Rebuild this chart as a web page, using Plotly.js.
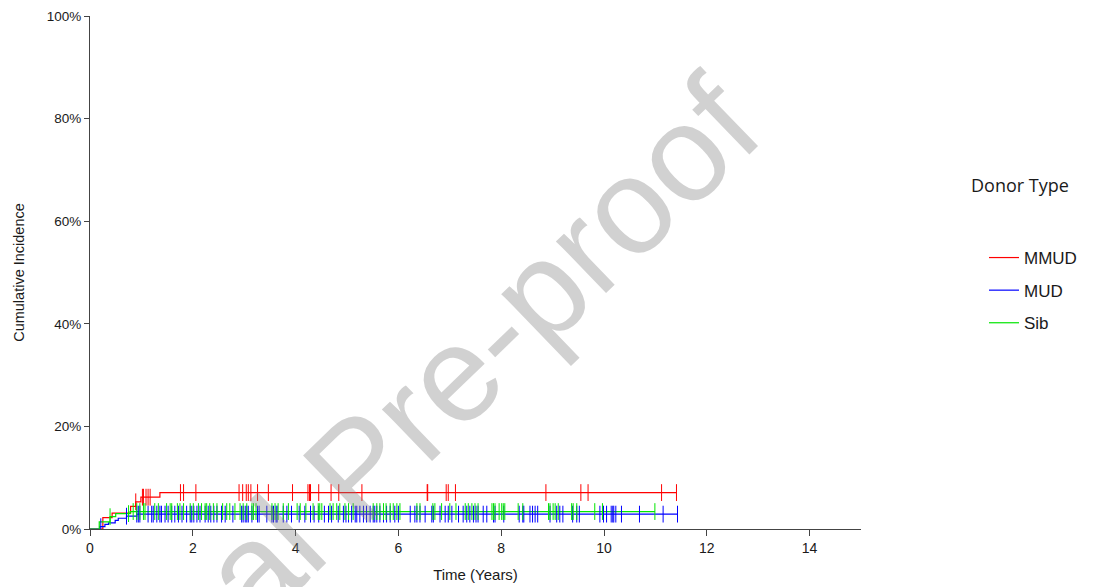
<!DOCTYPE html>
<html>
<head>
<meta charset="utf-8">
<script src="https://cdn.plot.ly/plotly-3.0.1.min.js"></script>
<style>html,body{margin:0;padding:0;background:#fff;}#chart{width:1093px;height:587px;}</style>
</head>
<body>
<div id="chart"></div>
<script>
// ---- data ----
var groupNames = ["MMUD", "MUD", "Sib"];

// step functions: event times (years) and cumulative incidence after each step
var mmudStepT = [0, 0.25, 0.43, 0.79, 0.89, 0.99, 1.36, 11.41];
var mmudStepY = [0, 0.022, 0.031, 0.044, 0.053, 0.062, 0.071, 0.071];

var mudStepT = [0, 0.19, 0.29, 0.36, 0.49, 0.55, 0.71, 0.91, 11.43];
var mudStepY = [0, 0.0045, 0.009, 0.012, 0.017, 0.021, 0.025, 0.029, 0.029];

var sibStepT = [0, 0.18, 0.39, 0.50, 0.78, 10.99];
var sibStepY = [0, 0.014, 0.024, 0.030, 0.034, 0.034];

// censoring times (years)
var mmudCensor = [0.89, 1.02, 1.04, 1.09, 1.13, 1.17, 1.76, 1.82, 2.06, 2.90, 2.97, 3.04, 3.08, 3.13,
  3.26, 3.47, 3.94, 4.24, 4.27, 4.29, 4.45, 4.69, 4.84, 5.29, 6.56, 6.57, 6.93, 6.97, 7.11, 8.87,
  9.55, 9.69, 11.12, 11.41];

var mudCensor = [0.21, 0.71, 0.91, 0.94, 0.97, 1.13, 1.20, 1.23, 1.30, 1.36, 1.39, 1.46, 1.52, 1.59,
  1.65, 1.72, 1.79, 1.88, 1.95, 1.98, 2.02, 2.08, 2.14, 2.24, 2.30, 2.35, 2.41, 2.47, 2.56, 2.63,
  2.78, 2.95, 2.98, 3.02, 3.05, 3.08, 3.15, 3.26, 3.29, 3.44, 3.54, 3.57, 3.62, 3.64, 3.76, 3.83,
  3.92, 4.07, 4.18, 4.29, 4.36, 4.45, 4.56, 4.64, 4.70, 4.83, 4.93, 4.98, 5.03, 5.09, 5.16, 5.19,
  5.25, 5.32, 5.38, 5.45, 5.51, 5.54, 5.58, 5.64, 5.71, 5.77, 5.84, 5.93, 6.00, 6.23, 6.32, 6.36,
  6.42, 6.52, 6.65, 6.68, 6.81, 6.91, 6.97, 7.04, 7.17, 7.26, 7.33, 7.39, 7.46, 7.51, 7.55, 7.65,
  7.72, 7.85, 7.88, 8.05, 8.35, 8.42, 8.44, 8.56, 8.61, 8.66, 8.71, 8.95, 9.08, 9.14, 9.20, 9.39,
  9.47, 9.52, 9.92, 9.99, 10.05, 10.14, 10.17, 10.19, 10.23, 10.34, 10.69, 11.15, 11.43];

var sibCensor = [0.39, 0.75, 0.84, 0.91, 0.97, 1.04, 1.07, 1.26, 1.33, 1.49, 1.56, 1.59, 1.70, 1.75,
  1.82, 1.95, 2.01, 2.11, 2.17, 2.24, 2.27, 2.33, 2.40, 2.47, 2.58, 2.66, 2.72, 2.82, 2.92, 2.98,
  3.05, 3.15, 3.18, 3.23, 3.54, 3.60, 3.66, 3.76, 3.86, 4.03, 4.09, 4.20, 4.34, 4.44, 4.47, 4.51,
  4.67, 4.73, 4.80, 4.86, 4.96, 5.03, 5.12, 5.51, 5.58, 5.64, 5.71, 5.76, 5.84, 5.90, 5.97, 6.03,
  6.36, 6.42, 6.67, 6.71, 6.84, 7.00, 7.12, 7.30, 7.36, 7.43, 7.49, 7.55, 7.82, 7.85, 7.88, 7.96,
  8.01, 8.04, 8.07, 8.33, 8.42, 8.92, 8.95, 9.01, 9.05, 9.11, 9.37, 9.40, 9.47, 9.82, 9.97, 10.99];

var xTickVals = [0, 2, 4, 6, 8, 10, 12, 14];
var yTickVals = [0, 0.2, 0.4, 0.6, 0.8, 1.0];

// ---- helpers ----
function stepValue(ts, ys, t) {
  var v = 0;
  for (var i = 0; i < ts.length; i++) { if (ts[i] <= t) v = ys[i]; }
  return v;
}

var colors = ["#ff0000", "#0000ff", "#00e600"];
var steps = [[mmudStepT, mmudStepY], [mudStepT, mudStepY], [sibStepT, sibStepY]];
var censors = [mmudCensor, mudCensor, sibCensor];

var traces = [];
for (var g = 0; g < 3; g++) {
  traces.push({
    type: "scatter", mode: "lines", name: groupNames[g],
    x: steps[g][0], y: steps[g][1],
    line: {shape: "hv", color: colors[g], width: 1.2},
    legendgroup: groupNames[g], showlegend: true, hoverinfo: "skip"
  });
}
for (var g = 0; g < 3; g++) {
  var cy = censors[g].map(function (t) { return stepValue(steps[g][0], steps[g][1], t); });
  traces.push({
    type: "scatter", mode: "markers", name: groupNames[g] + " censored",
    x: censors[g], y: cy,
    marker: {symbol: "line-ns", size: 12, color: colors[g], line: {color: colors[g], width: 1}},
    legendgroup: groupNames[g], showlegend: false, hoverinfo: "skip"
  });
}

var axisColor = "#444444";
var layout = {
  width: 1093, height: 587,
  margin: {l: 90, r: 232, t: 16, b: 58, pad: 0, autoexpand: false},
  paper_bgcolor: "#ffffff", plot_bgcolor: "#ffffff",
  font: {family: "Liberation Sans, Arial, sans-serif", color: "#1a1a1a", size: 13},
  xaxis: {
    range: [0, 15], tickvals: xTickVals, ticktext: xTickVals.map(String),
    showgrid: false, zeroline: false, showline: true, linecolor: axisColor, linewidth: 1,
    ticks: "outside", ticklen: 6, tickcolor: axisColor, tickfont: {size: 14},
    title: {text: "Time (Years)", font: {size: 15}, standoff: 14}
  },
  yaxis: {
    range: [0, 1], tickvals: yTickVals, tickformat: ".0%",
    showgrid: false, zeroline: false, showline: true, linecolor: axisColor, linewidth: 1,
    ticks: "outside", ticklen: 5, tickcolor: axisColor, tickfont: {size: 13.5},
    title: {text: "Cumulative Incidence", font: {size: 14.5}, standoff: 18}
  },
  showlegend: true,
  legend: {
    x: (984 - 90) / 771, xanchor: "left", y: (529 - 240) / 513, yanchor: "top",
    font: {size: 17, family: "Liberation Sans, Arial, sans-serif"},
    traceorder: "grouped", tracegroupgap: 7.5, bgcolor: "rgba(0,0,0,0)"
  },
  annotations: [
    {text: "Donor Type", xref: "paper", yref: "paper", x: (1020 - 90) / 771, y: (529 - 185) / 513,
     xanchor: "center", yanchor: "middle", showarrow: false,
     font: {family: "Open Sans, Noto Sans, sans-serif", size: 18, color: "#1a1a1a"}},
    {text: "Journal Pre-proof", xref: "paper", yref: "paper", x: (357 - 90) / 771, y: (529 - 468) / 513,
     xanchor: "center", yanchor: "middle", showarrow: false, textangle: -44,
     font: {family: "Liberation Sans, Arial, sans-serif", size: 136, color: "rgba(128,128,128,0.36)"}}
  ]
};

Plotly.newPlot("chart", traces, layout, {displayModeBar: false, staticPlot: true});
</script>
</body>
</html>
